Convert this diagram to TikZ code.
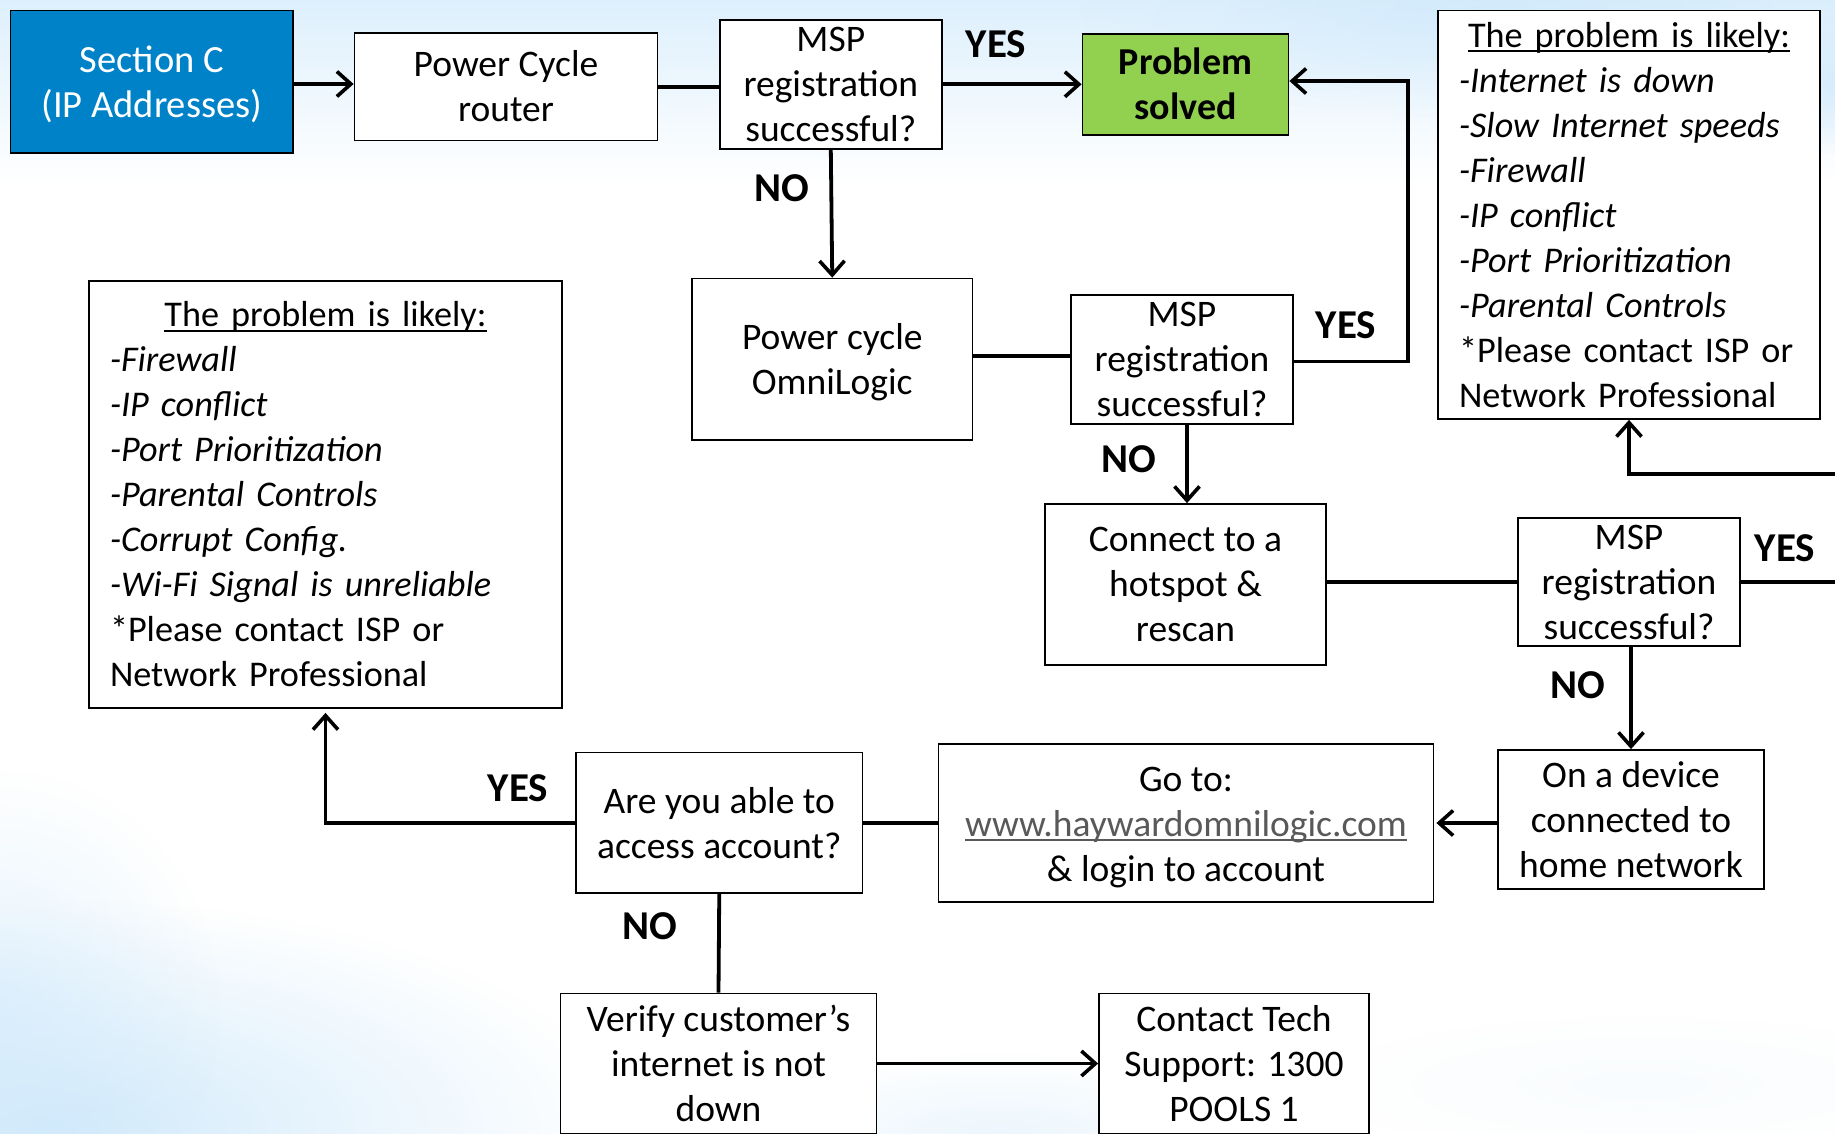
\documentclass[tikz,border=0pt]{standalone}
\usepackage{fontspec}
\setmainfont{Carlito}
\usetikzlibrary{arrows.meta,fadings}
\definecolor{secblue}{HTML}{0082C8}
\definecolor{okgreen}{HTML}{92D050}
\definecolor{bgblue}{HTML}{CBE7FB}
\definecolor{linkgray}{HTML}{595959}
\newcommand\lowul[2][black]{\leavevmode\setbox0\hbox{#2}\rlap{\textcolor{#1}{\rule[-5pt]{\wd0}{1.8pt}}}\box0}
\newcommand\dnstrut[1]{\rule{0pt}{#1pt}}
\tikzfading[name=softblob,inner color=transparent!0,outer color=transparent!100]
\tikzset{
  x=1pt,y=-1pt,
  flowbox/.style={draw=black,line width=1.8pt,fill=white,inner sep=0pt,align=center,text=black,font=\fontsize{37.5}{45}\selectfont},
  listbox/.style={flowbox,align=left,font=\fontsize{36.2}{45}\selectfont},
  conn/.style={draw=black,line width=3.8pt},
  arr/.style={conn,-{Straight Barb[length=14pt,width=25pt,line width=3.6pt]}},
  ans/.style={font=\bfseries\fontsize{41}{45}\selectfont,inner sep=0pt},
  blob/.style={fill=bgblue,path fading=softblob},
}
\begin{document}
\begin{tikzpicture}
\useasboundingbox (0,0) rectangle (1835,1133);
% background
\fill[white] (0,0) rectangle (1835,1133);
\shade[top color=bgblue!65,bottom color=white] (0,0) rectangle (1835,185);
\fill[blob,opacity=.6] (1500,10) ellipse [x radius=420,y radius=110];
\fill[blob,opacity=.7] (1840,85) ellipse [x radius=90,y radius=70];
\fill[blob,opacity=.85] (60,1130) ellipse [x radius=560,y radius=230];
\fill[blob,opacity=.5] (0,1010) ellipse [x radius=220,y radius=240];
\fill[blob,opacity=.35] (1000,1133) ellipse [x radius=300,y radius=80];
\fill[blob,opacity=.12] (1640,1085) ellipse [x radius=330,y radius=70];
% nodes
\node[flowbox,fill=secblue,text=white,font=\fontsize{38.5}{45}\selectfont,minimum width=282.5,minimum height=142.5] (sec) at (151.75,81.75) {\dnstrut{32}Section C\\(IP Addresses)};
\node[flowbox,minimum width=303,minimum height=107.6] (pcr) at (506,86.6) {Power Cycle\\router};
\node[flowbox,minimum width=222.3,minimum height=128.6] (msp1) at (830.8,84.3) {MSP\\registration\\successful?};
\node[flowbox,fill=okgreen,font=\bfseries\fontsize{38}{45}\selectfont,minimum width=206,minimum height=100.6] (solved) at (1185.5,84.3) {Problem\\solved};
\node[listbox,text width=340,minimum height=408.5,inner xsep=21] (likeR) at (1629,214.75) {\makebox[340pt]{\lowul{The problem is likely:}}\\\textit{-Internet is down}\\\textit{-Slow Internet speeds}\\\textit{-Firewall}\\\textit{-IP conflict}\\\textit{-Port Prioritization}\\\textit{-Parental Controls}\\{*}Please contact ISP or\\Network Professional};
\node[listbox,text width=431,minimum height=427,inner xsep=21] (likeL) at (325.5,494.5) {\makebox[431pt]{\lowul{The problem is likely:}}\\\textit{-Firewall}\\\textit{-IP conflict}\\\textit{-Port Prioritization}\\\textit{-Parental Controls}\\\textit{-Corrupt Config.}\\\textit{-Wi-Fi Signal is unreliable}\\{*}Please contact ISP or\\Network Professional};
\node[flowbox,minimum width=280.5,minimum height=161.5] (omni) at (832.25,359.25) {\dnstrut{31}Power cycle\\OmniLogic};
\node[flowbox,minimum width=222,minimum height=128.6] (msp2) at (1182,359.3) {MSP\\registration\\successful?};
\node[flowbox,minimum width=281,minimum height=161] (hot) at (1185.5,584.5) {Connect to a\\hotspot \&\\rescan};
\node[flowbox,minimum width=222,minimum height=128] (msp3) at (1629,582) {MSP\\registration\\successful?};
\node[flowbox,minimum width=266,minimum height=139] (dev) at (1631,819.5) {On a device\\connected to\\home network};
\node[flowbox,minimum width=495,minimum height=158] (goto) at (1186,823) {\dnstrut{33}Go to:\\\textcolor{linkgray}{\lowul[linkgray]{www.haywardomnilogic.com}}\\\& login to account};
\node[flowbox,minimum width=286.5,minimum height=140.5] (acc) at (719.25,822.75) {Are you able to\\access account?};
\node[flowbox,minimum width=316,minimum height=140] (ver) at (718.5,1063.5) {Verify customer’s\\internet is not\\down};
\node[flowbox,minimum width=270,minimum height=140] (tech) at (1234,1063.5) {Contact Tech\\Support: 1300\\POOLS 1};
% free ends at the picture's right edge
\coordinate (edgeA) at (1835,582);
\coordinate (edgeB) at (1835,474);
% connectors
\draw[arr] (sec.east |- 0,84) -- (pcr.west |- 0,84);
\draw[conn] (pcr.east |- 0,86.6) -- (msp1.west |- 0,86.6);
\draw[arr] (msp1.east |- 0,84.3) -- (solved.west);
\draw[arr] (msp1.south) -- (omni.north);
\draw[conn] (omni.east |- 0,356) -- (msp2.west |- 0,356);
\draw[arr] (msp2.east |- 0,361.5) -| (1407.6,81) -- (solved.east |- 0,81);
\draw[arr] (msp2.south -| 1187,0) -- (hot.north -| 1187,0);
\draw[conn] (hot.east |- msp3.west) -- (msp3.west);
\draw[conn] (msp3.east) -- (edgeA);
\draw[arr] (edgeB) -| (likeR.south);
\draw[arr] (msp3.south -| dev.north) -- (dev.north);
\draw[arr,shorten >=2pt] (dev.west |- goto.east) -- (goto.east);
\draw[conn] (goto.west) -- (acc.east |- goto.west);
\draw[arr,shorten >=4pt] (acc.west |- goto.west) -| (likeL.south);
\draw[conn] (acc.south) -- (ver.north);
\draw[arr] (ver.east) -- (tech.west);
% answers
\node[ans] (y1) at (996,44.5) {YES};
\node[ans] (n1) at (782,188) {NO};
\node[ans] (y2) at (1346,325) {YES};
\node[ans] (n2) at (1129,459) {NO};
\node[ans] (y3) at (1785,548) {YES};
\node[ans] (n3) at (1578,685) {NO};
\node[ans] (y4) at (518,788) {YES};
\node[ans] (n4) at (650,926) {NO};
\end{tikzpicture}
\end{document}
